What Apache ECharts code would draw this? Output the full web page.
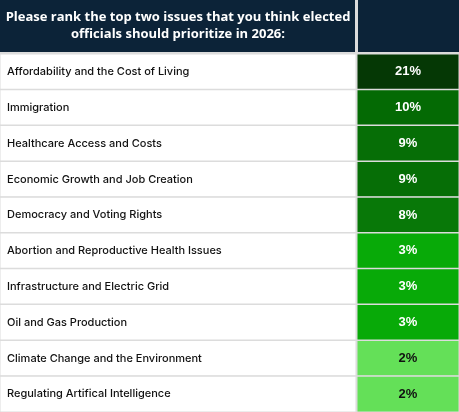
<!DOCTYPE html><html><head><meta charset="utf-8"><script src="https://cdn.jsdelivr.net/npm/echarts@6/dist/echarts.min.js"></script>
<style>html,body{margin:0;padding:0;background:#dcdcdc}#c{width:459px;height:412px}</style></head><body><div id="c"></div><script>
const issues=["Affordability and the Cost of Living","Immigration","Healthcare Access and Costs","Economic Growth and Job Creation","Democracy and Voting Rights","Abortion and Reproductive Health Issues","Infrastructure and Electric Grid","Oil and Gas Production","Climate Change and the Environment","Regulating Artifical Intelligence"];
const values=[21,10,9,9,8,3,3,3,2,2];
const colors=["#053805","#046a04","#066e06","#066e06","#087808","#08aa08","#08aa08","#08aa08","#64e058","#64e058"];
const title="Please rank the top two issues that you think elected\nofficials should prioritize in 2026:";
const chart=echarts.init(document.getElementById('c'));
const gridTop=54;
const yAx=(i)=>({type:'category',gridIndex:i,data:issues,inverse:true,show:false});
chart.setOption({
 animation:false,
 graphic:[
  {type:'rect',shape:{x:0,y:0,width:355,height:52},style:{fill:'#0c2338'}},
  {type:'rect',shape:{x:358,y:0,width:101,height:52},style:{fill:'#0c2338'}},
  {type:'text',x:178,y:26,style:{text:title,fill:'#fff',font:'bold 13px "Open Sans"',align:'center',verticalAlign:'middle',lineHeight:17}}
 ],
 grid:[{left:0,top:gridTop,width:356,bottom:0},{left:357,top:gridTop,right:0,bottom:0}],
 xAxis:[{type:'category',gridIndex:0,data:['a'],show:false},{type:'category',gridIndex:1,data:['b'],show:false}],
 yAxis:[yAx(0),yAx(1)],
 series:[
  {type:'heatmap',xAxisIndex:0,yAxisIndex:0,data:issues.map((s,i)=>({value:[0,i,0],itemStyle:{color:'#fff'}})),
   itemStyle:{borderColor:'#dcdcdc',borderWidth:1.5},
   label:{show:true,position:'insideLeft',distance:8,formatter:p=>issues[p.value[1]],color:'#111',fontFamily:'Inter',fontSize:11,fontWeight:500}},
  {type:'heatmap',xAxisIndex:1,yAxisIndex:1,data:values.map((v,i)=>({value:[0,i,v],itemStyle:{color:colors[i]},label:{color:v<=2?'#111':'#fff'}})),
   itemStyle:{borderColor:'#dcdcdc',borderWidth:1.5},
   label:{show:true,formatter:p=>p.value[2]+'%',fontFamily:'Liberation Sans',fontSize:13,fontWeight:'bold'}}
 ]
});
</script></body></html>
